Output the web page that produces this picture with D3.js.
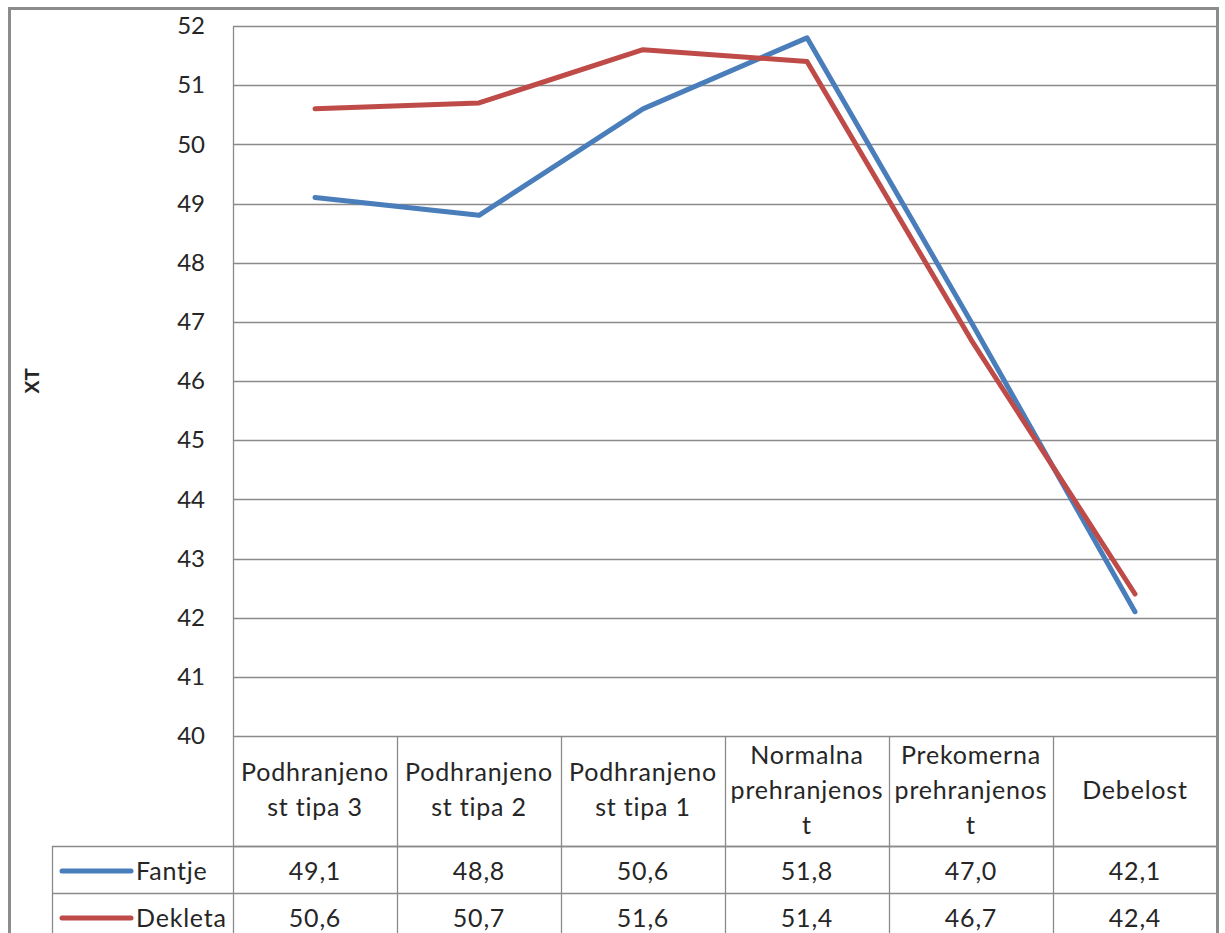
<!DOCTYPE html>
<html>
<head>
<meta charset="utf-8">
<script src="https://cdn.jsdelivr.net/npm/d3@7"></script>
<style>
  html, body { margin: 0; padding: 0; background: #fff; }
  svg { display: block; }
  text { font-family: Lato, "Open Sans", sans-serif; fill: #262626; }
</style>
</head>
<body>
<svg id="chart" width="1225" height="933"></svg>
<script>
// Categories (header lines already split as shown in the data table)
const categories = [
  ["Podhranjeno", "st tipa 3"],
  ["Podhranjeno", "st tipa 2"],
  ["Podhranjeno", "st tipa 1"],
  ["Normalna", "prehranjenos", "t"],
  ["Prekomerna", "prehranjenos", "t"],
  ["Debelost"]
];
const seriesNames = ["Fantje", "Dekleta"];
const fantje  = [49.1, 48.8, 50.6, 51.8, 47.0, 42.1];
const dekleta = [50.6, 50.7, 51.6, 51.4, 46.7, 42.4];
const yTicks = [40, 41, 42, 43, 44, 45, 46, 47, 48, 49, 50, 51, 52];
const colors = ["#4A7EBB", "#BE4B48"];

const svg = d3.select("#chart");

const plot = { left: 233, right: 1217, top: 26, bottom: 736 };
const rowHeader = 846, row1 = 893, row2 = 940;
const legendLeft = 52;
const tableFont = "25px";
const tableSpacing = "0.8px";

// outer chart border
svg.append("rect")
  .attr("x", 9.5).attr("y", 8.5)
  .attr("width", 1208).attr("height", 960)
  .attr("fill", "none").attr("stroke", "#8c8c8c").attr("stroke-width", 3);

const x = d3.scaleBand()
  .domain(d3.range(categories.length))
  .range([plot.left, plot.right])
  .padding(0);

const y = d3.scaleLinear()
  .domain([40, 52])
  .range([plot.bottom, plot.top]);

// horizontal gridlines
svg.append("g")
  .selectAll("line")
  .data(yTicks)
  .join("line")
  .attr("x1", plot.left).attr("x2", plot.right)
  .attr("y1", d => Math.round(y(d)) + 0.5).attr("y2", d => Math.round(y(d)) + 0.5)
  .attr("stroke", "#8a8a8a").attr("stroke-width", 1.3);

// y axis (labels only, with a vertical axis line)
const yAxis = d3.axisLeft(y).tickValues(yTicks).tickSize(0).tickPadding(28)
  .tickFormat(d3.format("d"));
const gy = svg.append("g").attr("transform", `translate(${plot.left},0)`).call(yAxis);
gy.select(".domain").attr("stroke", "#8a8a8a").attr("stroke-width", 1.3);
gy.selectAll("text")
  .style("font-family", "Lato, 'Open Sans', sans-serif")
  .style("font-size", "24px")
  .attr("fill", "#262626");

// axis title
svg.append("text")
  .attr("transform", "translate(39,381) rotate(-90)")
  .attr("text-anchor", "middle")
  .style("font-family", "'Liberation Sans', Arial, sans-serif")
  .style("font-size", "20px").style("font-weight", "bold")
  .attr("fill", "#000")
  .text("XT");

// data table grid
const grid = svg.append("g").attr("stroke", "#8a8a8a").attr("stroke-width", 1.3);
[[plot.left, rowHeader], [legendLeft, rowHeader], [legendLeft, row1], [legendLeft, row2]].forEach(([x0, yy]) => {
  grid.append("line").attr("x1", x0).attr("x2", plot.right)
    .attr("y1", yy + 0.5).attr("y2", yy + 0.5);
});
d3.range(categories.length + 1).forEach(i => {
  const xx = i < categories.length ? x(i) : plot.right;
  grid.append("line").attr("x1", xx + 0.5).attr("x2", xx + 0.5)
    .attr("y1", plot.bottom).attr("y2", row2);
});
grid.append("line").attr("x1", legendLeft + 0.5).attr("x2", legendLeft + 0.5)
  .attr("y1", rowHeader).attr("y2", row2);

// header text
const lineH = 35;
const headerMid = (plot.bottom + rowHeader) / 2;
categories.forEach((lines, i) => {
  const cx = x(i) + x.bandwidth() / 2;
  const t = svg.append("text")
    .attr("text-anchor", "middle")
    .style("font-size", tableFont)
    .style("letter-spacing", tableSpacing);
  const first = headerMid - 1 - (lines.length - 1) * lineH / 2;
  lines.forEach((ln, k) => {
    t.append("tspan").attr("x", cx).attr("y", first + k * lineH)
      .attr("dy", "0.35em").text(ln);
  });
});

// value rows with legend keys
const fmt = v => d3.format(".1f")(v).replace(".", ",");
const rowCenters = [871, 918];
[fantje, dekleta].forEach((vals, s) => {
  const cy = rowCenters[s];
  svg.append("g").selectAll("text")
    .data(vals)
    .join("text")
    .attr("x", (d, i) => x(i) + x.bandwidth() / 2)
    .attr("y", cy).attr("dy", "0.35em")
    .attr("text-anchor", "middle")
    .style("font-size", tableFont)
    .style("letter-spacing", tableSpacing)
    .text(d => fmt(d));
  svg.append("line")
    .attr("x1", 62).attr("x2", 131)
    .attr("y1", cy).attr("y2", cy)
    .attr("stroke", colors[s]).attr("stroke-width", 5).attr("stroke-linecap", "round");
  svg.append("text")
    .attr("x", 136).attr("y", cy).attr("dy", "0.35em")
    .style("font-size", tableFont)
    .style("letter-spacing", tableSpacing)
    .text(seriesNames[s]);
});

// series lines
const line = d3.line()
  .x((d, i) => x(i) + x.bandwidth() / 2)
  .y(d => y(d));
[fantje, dekleta].forEach((vals, s) => {
  svg.append("path")
    .datum(vals)
    .attr("d", line)
    .attr("fill", "none")
    .attr("stroke", colors[s])
    .attr("stroke-width", 5)
    .attr("stroke-linejoin", "round")
    .attr("stroke-linecap", "round");
});
</script>
</body>
</html>
